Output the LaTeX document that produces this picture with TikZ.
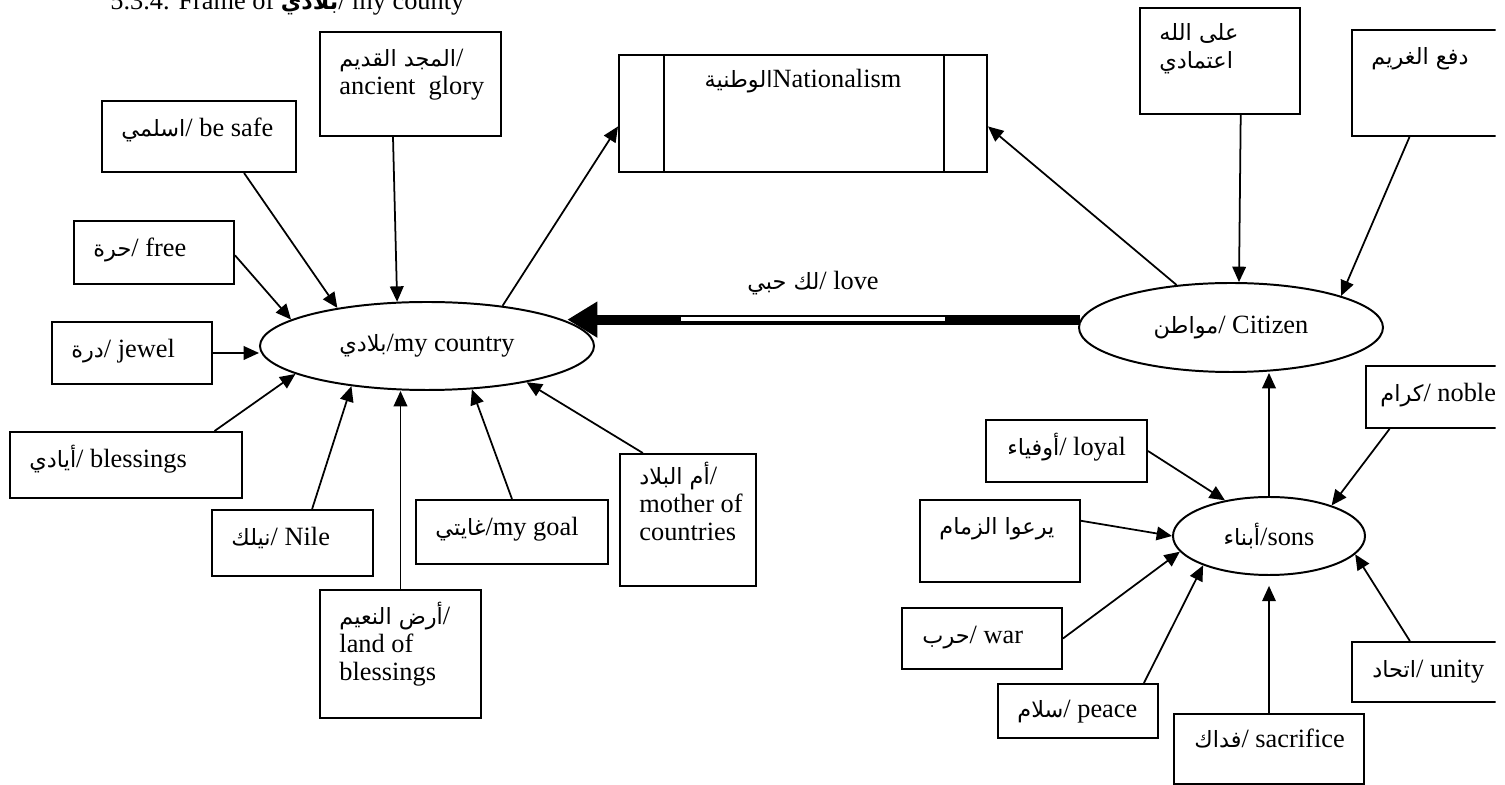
\documentclass[tikz,border=0pt]{standalone}
\usepackage{fontspec}
\setmainfont{Liberation Serif}
\newfontfamily\arabicfont[Script=Arabic, Scale=0.85]{DejaVu Sans}
\TeXXeTstate=1
\usetikzlibrary{shapes.geometric, arrows.meta}
\newcommand{\px}{0.016cm}
\newcommand{\arab}[1]{{\arabicfont\beginR #1\endR}}

\begin{document}
\begin{tikzpicture}[x=0.016cm, y=-0.016cm,
    box/.style={draw, line width=0.9pt, anchor=north west, inner sep=0pt},
    txt/.style={anchor=base west, align=left, inner sep=0pt, font=\fontsize{12}{12.8}\selectfont},
    blob/.style={draw, ellipse, line width=0.9pt, inner sep=0pt, font=\fontsize{12}{12.8}\selectfont},
    arr/.style={-{Triangle[length=7pt, width=6.2pt]}, line width=0.8pt}]

    \useasboundingbox (0,0) rectangle (1505,785);
    \clip (0,-30) rectangle (1495.5,800);

    \node[txt] (title) at (110,10) {5.3.4. Frame of \arab{\bfseries بلادي}/ my county};

    % the three centres
    \node[blob, minimum width=334*\px, minimum height=88*\px] (country) at (427,346) {\arab{بلادي}/my country};
    \node[blob, minimum width=304*\px, minimum height=89*\px] (citizen) at (1231,327.5) {\arab{مواطن}/ Citizen};
    \node[blob, minimum width=192*\px, minimum height=78*\px] (sons) at (1269,536) {\arab{أبناء}/sons};

    \node[box, minimum width=368*\px, minimum height=117*\px] (nation) at (618,54) {};
    \draw[line width=0.9pt] ([xshift=46*\px]nation.north west) -- ([xshift=46*\px]nation.south west);
    \draw[line width=0.9pt] ([xshift=-44*\px]nation.north east) -- ([xshift=-44*\px]nation.south east);
    \node[txt, anchor=base] (nation-t) at ([yshift=-34*\px]nation.north) {\arab{الوطنية}Nationalism};

    % boxes round my country
    \node[box, minimum width=181*\px, minimum height=104*\px] (glory) at (319,31) {};
    \node[txt] (glory-t) at ([xshift=20*\px, yshift=-64*\px]glory.north west) {\arab{المجد القديم}/\\ancient\ \ glory};
    \node[box, minimum width=194*\px, minimum height=71*\px] (safe) at (101,100) {};
    \node[txt] (safe-t) at ([xshift=20*\px, yshift=-37*\px]safe.north west) {\arab{اسلمي}/ be safe};
    \node[box, minimum width=160*\px, minimum height=63*\px] (free) at (73,220) {};
    \node[txt] (free-t) at ([xshift=20*\px, yshift=-37*\px]free.north west) {\arab{حرة}/ free};
    \node[box, minimum width=160*\px, minimum height=62*\px] (jewel) at (51,321) {};
    \node[txt] (jewel-t) at ([xshift=20*\px, yshift=-37*\px]jewel.north west) {\arab{درة}/ jewel};
    \node[box, minimum width=232*\px, minimum height=66*\px] (bless) at (9,431) {};
    \node[txt] (bless-t) at ([xshift=20*\px, yshift=-37*\px]bless.north west) {\arab{أيادي}/ blessings};
    \node[box, minimum width=161*\px, minimum height=66*\px] (nile) at (211,509) {};
    \node[txt] (nile-t) at ([xshift=20*\px, yshift=-37*\px]nile.north west) {\arab{نيلك}/ Nile};
    \node[box, minimum width=161*\px, minimum height=128*\px] (land) at (319,589) {};
    \node[txt] (land-t) at ([xshift=20*\px, yshift=-92*\px]land.north west) {\arab{أرض النعيم}/\\land of\\blessings};
    \node[box, minimum width=192*\px, minimum height=64*\px] (goal) at (415,499) {};
    \node[txt] (goal-t) at ([xshift=20*\px, yshift=-37*\px]goal.north west) {\arab{غايتي}/my goal};
    \node[box, minimum width=136*\px, minimum height=132*\px] (mother) at (619,453) {};
    \node[txt] (mother-t) at ([xshift=20*\px, yshift=-88*\px]mother.north west) {\arab{أم البلاد}/\\mother of\\countries};

    % boxes round citizen and sons
    \node[box, minimum width=160*\px, minimum height=106*\px] (rely) at (1139,7) {};
    \node[txt] (rely-t) at ([xshift=20*\px, yshift=-62*\px]rely.north west) {\arab{على الله}\\\arab{اعتمادي}};
    \node[box, minimum width=146*\px, minimum height=106*\px] (debt) at (1351,29) {};
    \node[txt] (debt-t) at ([xshift=20*\px, yshift=-36*\px]debt.north west) {\arab{دفع الغريم}};
    \node[box, minimum width=132*\px, minimum height=62*\px] (noble) at (1365,365) {};
    \node[txt] (noble-t) at ([xshift=15*\px, yshift=-37*\px]noble.north west) {\arab{كرام}/ noble};
    \node[box, minimum width=161*\px, minimum height=62*\px] (loyal) at (985,419) {};
    \node[txt] (loyal-t) at ([xshift=22*\px, yshift=-37*\px]loyal.north west) {\arab{أوفياء}/ loyal};
    \node[box, minimum width=160*\px, minimum height=82*\px] (tend) at (919,499) {};
    \node[txt] (tend-t) at ([xshift=20*\px, yshift=-36*\px]tend.north west) {\arab{يرعوا الزمام}};
    \node[box, minimum width=160*\px, minimum height=61*\px] (war) at (901,607) {};
    \node[txt] (war-t) at ([xshift=21*\px, yshift=-37*\px]war.north west) {\arab{حرب}/ war};
    \node[box, minimum width=160*\px, minimum height=54*\px] (peace) at (997,683) {};
    \node[txt] (peace-t) at ([xshift=20*\px, yshift=-35*\px]peace.north west) {\arab{سلام}/ peace};
    \node[box, minimum width=190*\px, minimum height=70*\px] (sacr) at (1173,713) {};
    \node[txt] (sacr-t) at ([xshift=21*\px, yshift=-35*\px]sacr.north west) {\arab{فداك}/ sacrifice};
    \node[box, minimum width=146*\px, minimum height=60*\px] (unity) at (1351,641) {};
    \node[txt] (unity-t) at ([xshift=21*\px, yshift=-37*\px]unity.north west) {\arab{اتحاد}/ unity};

    % arrows into my country
    \draw[arr] ([xshift=74*\px]glory.south west) -- (country.124);
    \draw[arr] (safe.-39.5) -- (country.157);
    \draw[arr] (free.-2.5) -- (country.169);
    \draw[arr] (jewel.east) -- (jewel.east -| country.west);
    \draw[arr] (bless.21) -- (country.192);
    \draw[arr] (nile.60) -- (country.208);
    \draw[arr] (land.north) -- (land.north |- country.south);
    \draw[arr] (goal.north) -- (country.-44);
    \draw[arr] (mother.124) -- (country.-20);
    \draw[arr] (country.28) -- (nation.184.5);

    % citizen
    \draw[arr] (citizen.142) -- (nation.-4);
    \draw[arr] (rely.-69.3) -- (citizen.80);
    \draw[arr] (debt.254.2) -- (citizen.16);
    \draw[line width=4.6pt, -{Triangle[length=13.7pt, width=15.5pt]}] (citizen.177) -- (citizen.177 -| country.10.9);
    \fill[white] (681,316.8) rectangle (945,320.6);
    \node[txt, anchor=base] (love) at (813,290) {\arab{لك حبي}/ love};

    % sons
    \draw[arr] (sons.north) -- (sons.north |- citizen.south);
    \draw[arr] (loyal.east) -- (sons.141);
    \draw[arr] (tend.14) -- (sons.west);
    \draw[arr] (war.east) -- (sons.190);
    \draw[arr] (peace.23.2) -- (sons.204);
    \draw[arr, shorten >=4.5pt] (sacr.north) -- (sons.south);
    \draw[arr] (unity.116.6) -- (sons.-12);
    \draw[arr] (noble.217.8) -- (sons.26);

\end{tikzpicture}
\end{document}
